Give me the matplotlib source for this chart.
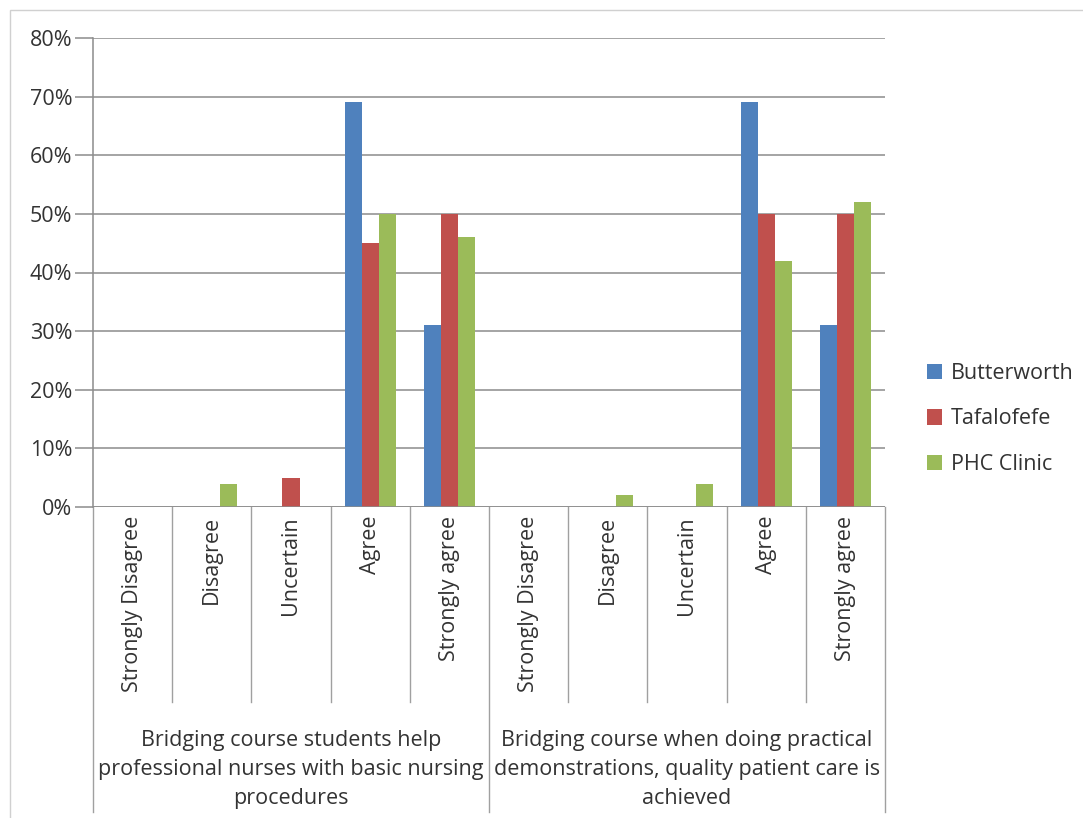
import numpy as np
import matplotlib
matplotlib.use("Agg")
import matplotlib.pyplot as plt
from matplotlib.patches import Rectangle
import matplotlib.transforms as mtransforms

categories = ["Strongly Disagree", "Disagree", "Uncertain", "Agree", "Strongly agree",
              "Strongly Disagree", "Disagree", "Uncertain", "Agree", "Strongly agree"]
groups = ["Bridging course students help\nprofessional nurses with basic nursing\nprocedures",
          "Bridging course when doing practical\ndemonstrations, quality patient care is\nachieved"]
series_names = ["Butterworth", "Tafalofefe", "PHC Clinic"]
butterworth = [0, 0, 0, 69, 31, 0, 0, 0, 69, 31]
tafalofefe = [0, 0, 5, 45, 50, 0, 0, 0, 50, 50]
phc_clinic = [0, 4, 0, 50, 46, 0, 2, 4, 42, 52]
yticks = [0, 10, 20, 30, 40, 50, 60, 70, 80]

colors = ["#4F81BD", "#C0504D", "#9BBB59"]
plt.rcParams['font.family'] = ['Open Sans', 'DejaVu Sans']

W, H = 1083, 818
fig = plt.figure(figsize=(W / 100, H / 100), dpi=100)
x0, x1, ytop, ybot = 93, 885, 38, 507
ax = fig.add_axes([x0 / W, 1 - ybot / H, (x1 - x0) / W, (ybot - ytop) / H])

x = np.arange(len(categories))
bw = 0.215
for i, (vals, name) in enumerate(zip([butterworth, tafalofefe, phc_clinic], series_names)):
    ax.bar(x + (i - 1) * bw, vals, width=bw, color=colors[i], label=name, zorder=3)

ax.set_xlim(-0.5, len(categories) - 0.5)
ax.set_ylim(0, 80)
ax.set_yticks(yticks)
ax.set_yticklabels([f"{v}%" for v in yticks], fontsize=15.5, color="#333333")
ax.yaxis.grid(True, color="#8c8c8c", linewidth=1.1, zorder=0)
ax.tick_params(axis='y', length=13, color="#8c8c8c", width=1.1, pad=2)
ax.set_xticks([])
for s in ["top", "right", "bottom"]:
    ax.spines[s].set_visible(False)
ax.spines["left"].set_color("#8c8c8c")
ax.spines["left"].set_linewidth(1.1)
ax.axhline(0, color="#8c8c8c", linewidth=1.1, zorder=4)

trans = mtransforms.blended_transform_factory(ax.transData, ax.transAxes)
hpx = ybot - ytop
cat_bottom = -(702 - ybot) / hpx
grp_bottom = -(812 - ybot) / hpx
for b in np.arange(-0.5, len(categories), 1.0):
    if b in (-0.5, 4.5, 9.5):
        yb = grp_bottom
    else:
        yb = cat_bottom
    ax.plot([b, b], [0, yb], transform=trans, color="#a0a0a0", linewidth=1.0, clip_on=False)

for i, c in enumerate(categories):
    ax.text(x[i], -(516 - ybot) / hpx, c, transform=trans, rotation=90, ha="center", va="top",
            fontsize=15.5, color="#333333")

for gi, g in enumerate(groups):
    ax.text(2 + 5 * gi, -(730 - ybot) / hpx, g, transform=trans, ha="center", va="top",
            fontsize=15.5, color="#333333", linespacing=1.5)

leg = fig.legend(loc="center left", bbox_to_anchor=(908 / W, 1 - 419 / H), frameon=False,
                 fontsize=15.5, handlelength=0.7, handleheight=0.7, handletextpad=0.4,
                 labelspacing=1.15)
for t in leg.get_texts():
    t.set_color("#333333")

fig.patches.append(Rectangle((10 / W, -0.1), 1.2, 1 - 10 / H + 0.1, transform=fig.transFigure,
                             fill=False, edgecolor="#d0d0d0", linewidth=1.0))

fig.savefig("out.png", dpi=100)
